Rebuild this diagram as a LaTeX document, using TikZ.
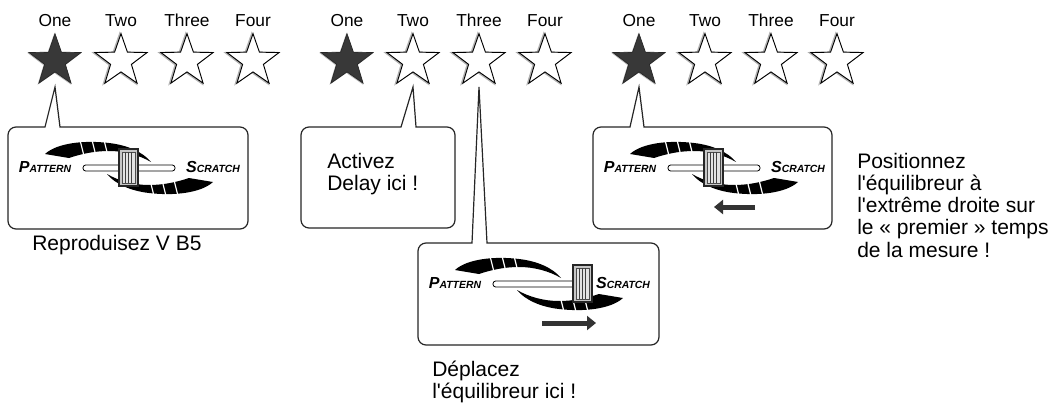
\documentclass[tikz,border=0pt]{standalone}
\usepackage{fontspec}
\setmainfont{Liberation Sans}
\usetikzlibrary{shapes.geometric,arrows.meta}
\newcommand\apos{\textquotesingle}
\newcommand\PSbig{\fontsize{12pt}{12pt}\selectfont}
\newcommand\PSsmall{\fontsize{7.8pt}{8pt}\selectfont}
% slider graphic: #1 name prefix, #2 #3 centre, #4 knob offset
\newcommand\slidergfx[4]{%
  \begin{scope}[shift={(#2,#3)}]
    \foreach \r in {0,180}{
      \begin{scope}[rotate=\r]
        \fill[black] (-84,-14) .. controls (-72,-25) and (-45,-28) .. (-20,-25)
          .. controls (-2,-23) and (14,-16) .. (22,-6)
          .. controls (10,-13) and (-5,-17) .. (-20,-17)
          .. controls (-35,-17) and (-48,-14) .. (-60,-10) -- cycle;
        \foreach \sx in {-47,-35,-23}
          \draw[white, line width=0.9pt] (\sx-2.5,-30) -- (\sx+2,-12);
      \end{scope}}
    \draw[rail] (-46,-3) rectangle (46,3);
    \draw[knob] (#4-10,-19) rectangle (#4+9,18);
    \draw[fill=gray!22, draw=black!70, line width=0.4pt] (#4-7,-16) rectangle (#4+6,15);
    \foreach \d in {-3.5,-0.5,2.5}
      \draw[black!75, line width=0.8pt] (#4+\d,-16) -- (#4+\d,15);
    \node[slab] (#1p) at (-84,-1) {\PSbig P\PSsmall ATTERN};
    \node[slab] (#1s) at (84,-1) {\PSbig S\PSsmall CRATCH};
  \end{scope}}
% callout: #1 x1 #2 y1 #3 x2 #4 y2 #5 base left #6 base right #7 tip
\newcommand\calloutbox[7]{%
  \draw[callout] (#5,#2) -- (#7) -- (#6,#2) -- ({#3-8},#2)
    arc[start angle=-90,end angle=0,radius=8] -- (#3,{#4-8})
    arc[start angle=0,end angle=90,radius=8] -- ({#1+8},#4)
    arc[start angle=90,end angle=180,radius=8] -- (#1,{#2+8})
    arc[start angle=180,end angle=270,radius=8] -- cycle;}
\begin{document}
\begin{tikzpicture}[x=0.75pt,y=-0.75pt,
  lbl/.style={font=\fontsize{13pt}{15pt}\selectfont, anchor=base, inner sep=0pt},
  txt/.style={font=\fontsize{15.75pt}{16.7pt}\selectfont, align=left, anchor=north west, inner sep=0pt},
  starshape/.style={star, star points=5, star point ratio=2.5, minimum size=41pt, inner sep=0pt, outer sep=0pt},
  fullstar/.style={starshape, fill=black!78, draw=black!85, line width=0.5pt},
  fullshadow/.style={starshape, minimum size=43pt, fill=gray!55},
  emptystar/.style={starshape, fill=white, draw=black, line width=0.7pt},
  emptyshadow/.style={starshape, draw=gray!60, line width=1.3pt},
  callout/.style={draw=black!85, line width=0.9pt, fill=white},
  rail/.style={fill=white, draw=black, line width=0.6pt, rounded corners=2pt},
  knob/.style={fill=gray!45, draw=black!85, line width=0.8pt},
  slab/.style={font=\bfseries\itshape, inner sep=0pt},
  movearrow/.style={-{Triangle[length=6.75pt,width=10.5pt]}, line width=3.75pt, draw=black!80}]
\useasboundingbox (0,0) rectangle (1056,403);

% star groups
\foreach \g/\gx in {1/55,2/347,3/639}{
  \foreach \i/\lab in {1/One,2/Two,3/Three,4/Four}{
    \pgfmathsetmacro\sx{\gx+66*(\i-1)}
    \node[lbl] (l\g\i) at (\sx,27) {\lab};
    \ifnum\i=1
      \node[fullshadow] (h\g\i) at (\sx-0.6,61.6) {};
      \node[fullstar] (s\g\i) at (\sx,61) {};
    \else
      \node[emptyshadow] (h\g\i) at (\sx-1.2,61.3) {};
      \node[emptystar] (s\g\i) at (\sx,61) {};
    \fi
  }}

% callout tips
\coordinate (t1) at ([yshift=-19.5pt]s11.center);
\coordinate (t2) at ([yshift=-19.5pt]s22.center);
\coordinate (t3) at ([yshift=-19.5pt]s23.center);
\coordinate (t4) at ([yshift=-19.5pt]s31.center);

\calloutbox{8}{127}{248}{229}{45}{60}{t1}
\calloutbox{301}{127}{455}{228}{401}{416}{t2}
\calloutbox{418}{243}{659}{345}{472}{487}{t3}
\calloutbox{593}{127}{832}{229}{630}{644}{t4}

\slidergfx{a}{129}{168}{0}
\slidergfx{b}{539}{284}{44}
\slidergfx{c}{714}{168}{0}

\coordinate (m3s) at (542,323); \coordinate (m3e) at (596,323);
\draw[movearrow] (m3s) -- (m3e);
\coordinate (m4s) at (755,207); \coordinate (m4e) at (714,207);
\draw[movearrow] (m4s) -- (m4e);

\node[txt, anchor=base west] (x1) at (32,250) {Reproduisez V B5};
\node[txt] (x2) at (327,152.7) {Activez\\Delay ici !};
\node[txt] (x3) at (432,360.7) {Déplacez\\l\apos équilibreur ici !};
\node[txt] (x4) at (857,152.7) {Positionnez\\l\apos équilibreur à\\l\apos extrême droite sur\\le « premier » temps\\de la mesure !};
\end{tikzpicture}
\end{document}
